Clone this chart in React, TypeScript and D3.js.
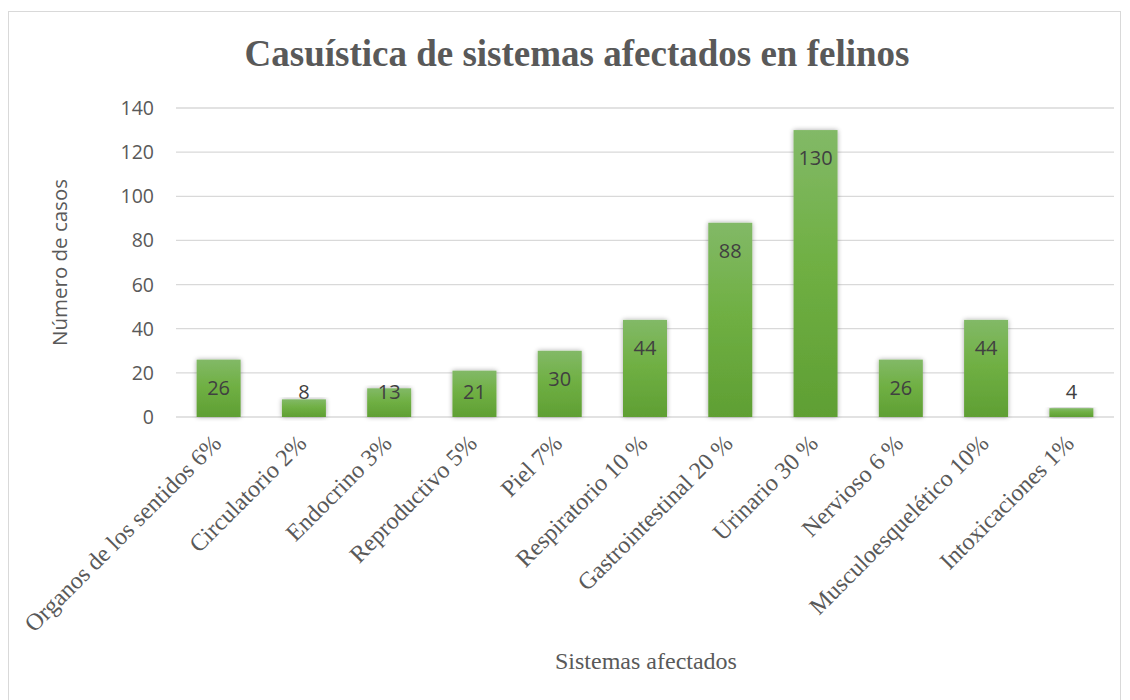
import * as d3 from "d3";

const categories = [
  "Organos de los sentidos 6%",
  "Circulatorio 2%",
  "Endocrino 3%",
  "Reproductivo 5%",
  "Piel 7%",
  "Respiratorio 10 %",
  "Gastrointestinal 20 %",
  "Urinario 30 %",
  "Nervioso 6 %",
  "Musculoesquelético 10%",
  "Intoxicaciones 1%",
];
const cases = [26, 8, 13, 21, 30, 44, 88, 130, 26, 44, 4];
const yTicks = [0, 20, 40, 60, 80, 100, 120, 140];

const W = 1130;
const H = 700;
const plot = { left: 176, right: 1114, top: 108, bottom: 417 };

const SANS = "'Open Sans', 'Liberation Sans', sans-serif";
const SERIF = "'Liberation Serif', 'Times New Roman', serif";

export default function App() {
  const x = d3
    .scaleBand<string>()
    .domain(categories)
    .range([plot.left, plot.right])
    .paddingInner(0.484)
    .paddingOuter(0.242);
  const y = d3.scaleLinear().domain([0, 140]).range([plot.bottom, plot.top]);

  return (
    <svg
      width={W}
      height={H}
      style={{ position: "absolute", left: 0, top: 0, background: "#fff" }}
    >
      <defs>
        <linearGradient id="barFill" x1="0" y1="0" x2="0" y2="1">
          <stop offset="0%" stopColor="#82b967" />
          <stop offset="45%" stopColor="#70b044" />
          <stop offset="100%" stopColor="#5f9f33" />
        </linearGradient>
        <filter id="shadow" x="-30%" y="-10%" width="160%" height="130%">
          <feGaussianBlur in="SourceAlpha" stdDeviation="2.5" />
          <feOffset dx="0" dy="0" result="blur" />
          <feComponentTransfer>
            <feFuncA type="linear" slope="0.35" />
          </feComponentTransfer>
          <feMerge>
            <feMergeNode />
            <feMergeNode in="SourceGraphic" />
          </feMerge>
        </filter>
      </defs>

      {/* chart frame */}
      <rect x={8.5} y={11.5} width={1112} height={700} fill="#fff" stroke="#d9d9d9" />

      {/* title */}
      <text
        x={577}
        y={66}
        textAnchor="middle"
        fontFamily={SERIF}
        fontWeight="bold"
        fontSize={37}
        fill="#595959"
      >
        Casuística de sistemas afectados en felinos
      </text>

      {/* gridlines + y ticks */}
      {yTicks.map((t) => (
        <g key={t}>
          <line
            x1={plot.left}
            x2={plot.right}
            y1={y(t)}
            y2={y(t)}
            stroke="#d9d9d9"
            strokeWidth={1.3}
          />
          <text
            x={154}
            y={y(t)}
            dy="0.36em"
            textAnchor="end"
            fontFamily={SANS}
            fontSize={19.5}
            fill="#595959"
          >
            {t}
          </text>
        </g>
      ))}

      {/* bars */}
      {categories.map((c, i) => (
        <rect
          key={c}
          x={x(c)}
          y={y(cases[i])}
          width={x.bandwidth()}
          height={y(0) - y(cases[i])}
          fill="url(#barFill)"
          filter="url(#shadow)"
        />
      ))}

      {/* data labels */}
      {categories.map((c, i) => (
        <text
          key={c}
          x={(x(c) ?? 0) + x.bandwidth() / 2}
          y={Math.min(y(cases[i]) + 28, y(0) - 25)}
          dy="0.36em"
          textAnchor="middle"
          fontFamily={SANS}
          fontSize={20}
          fill="#404040"
        >
          {cases[i]}
        </text>
      ))}

      {/* category labels */}
      {categories.map((c) => {
        const cx = (x(c) ?? 0) + x.bandwidth() / 2;
        return (
          <text
            key={c}
            transform={`translate(${cx - 2},${plot.bottom + 22}) rotate(-45)`}
            textAnchor="end"
            dy="0.35em"
            fontFamily={SERIF}
            fontSize={24}
            fill="#595959"
          >
            {c}
          </text>
        );
      })}

      {/* axis titles */}
      <text
        transform={`translate(60,${(plot.top + plot.bottom) / 2}) rotate(-90)`}
        textAnchor="middle"
        dy="0.35em"
        fontFamily={SANS}
        fontSize={20.5}
        fill="#595959"
      >
        Número de casos
      </text>
      <text
        x={646}
        y={661}
        textAnchor="middle"
        dy="0.35em"
        fontFamily={SERIF}
        fontSize={24}
        fill="#595959"
      >
        Sistemas afectados
      </text>
    </svg>
  );
}
